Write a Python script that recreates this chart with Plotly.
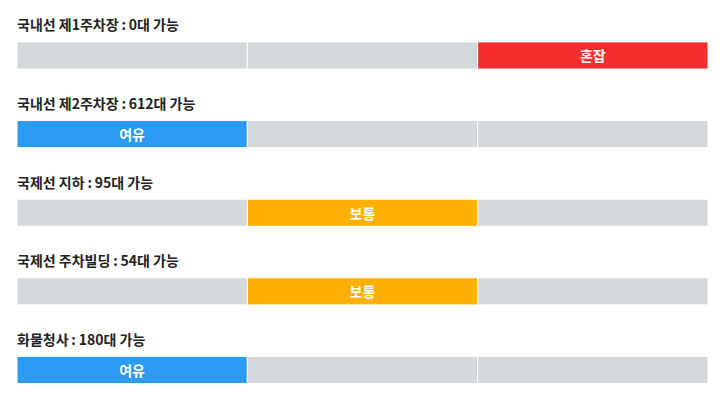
import plotly.graph_objects as go

locations = ["국내선 제1주차장", "국내선 제2주차장", "국제선 지하", "국제선 주차빌딩", "화물청사"]
counts = [0, 612, 95, 54, 180]
status_index = [2, 0, 1, 1, 0]
status_names = ["여유", "보통", "혼잡"]
status_colors = ["#2b9bf4", "#ffb000", "#f62d2d"]
gray = "#d3d8db"

rows = list(range(len(locations)))
fig = go.Figure()
for k, name in enumerate(status_names):
    colors = [status_colors[k] if s == k else gray for s in status_index]
    texts = [f"<b>{name}</b>" if s == k else "" for s in status_index]
    fig.add_trace(go.Bar(
        x=[1] * len(rows), base=[k] * len(rows), y=rows, orientation="h",
        width=0.345, marker=dict(color=colors, line=dict(color="white", width=1)),
        text=texts, textposition="inside", insidetextanchor="middle",
        textfont=dict(color="white", size=14, family="Noto Sans CJK KR"),
        hoverinfo="skip", showlegend=False,
    ))

for r, loc, c in zip(rows, locations, counts):
    fig.add_annotation(
        x=0, y=r, xref="x", yref="y", xanchor="left", yanchor="middle",
        yshift=31, xshift=-2, showarrow=False,
        text=f"<b>{loc}\u2009:\u2009{c}대 가능</b>",
        font=dict(size=14, color="#222222", family="Noto Sans CJK KR"),
    )

fig.update_layout(
    width=704, height=383, margin=dict(l=9, r=4, t=0, b=0),
    plot_bgcolor="white", paper_bgcolor="white", barmode="overlay",
    xaxis=dict(range=[0, 3], visible=False, fixedrange=True),
    yaxis=dict(range=[4.268, -0.604], visible=False, fixedrange=True),
    uniformtext=dict(mode="show", minsize=14),
)
fig.write_html("out.html")
